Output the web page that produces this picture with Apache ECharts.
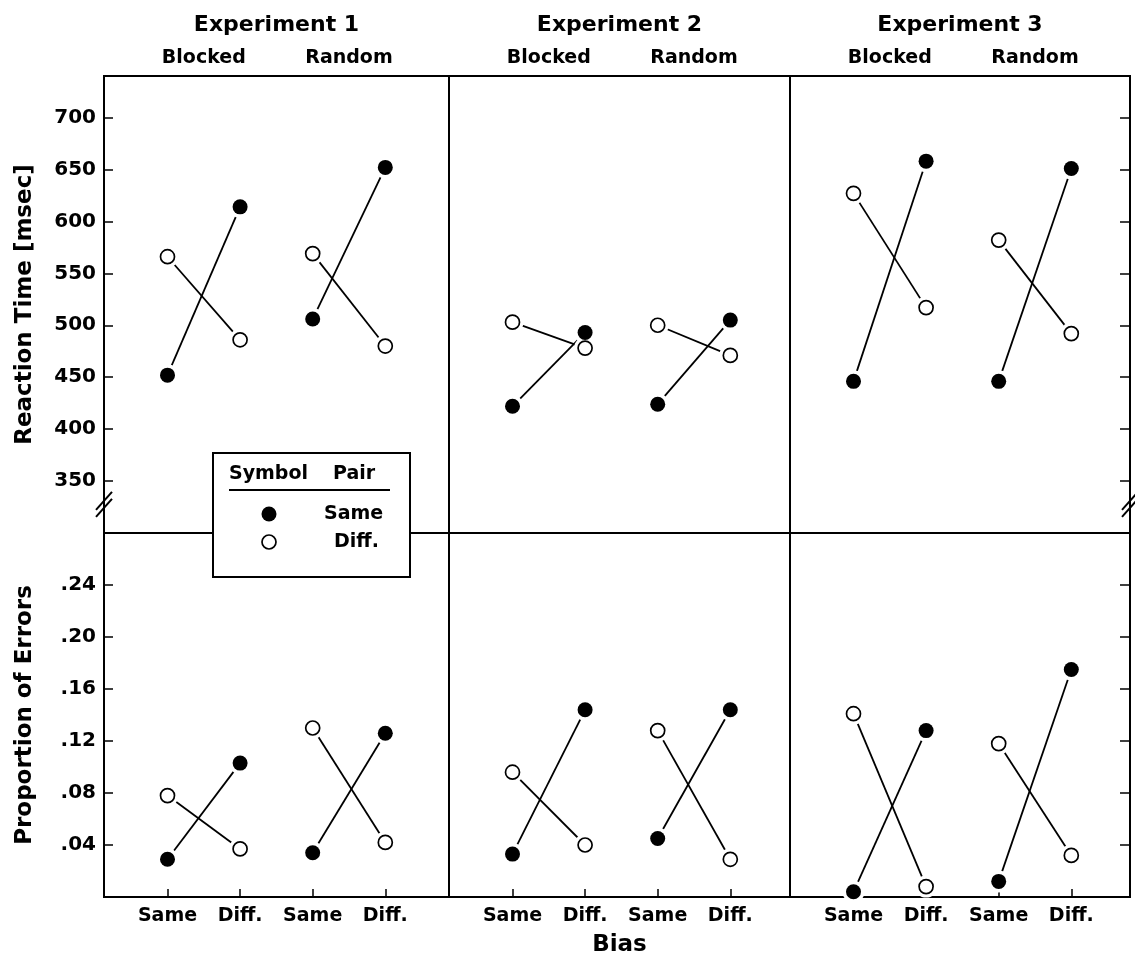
<!DOCTYPE html>
<html>
<head>
<meta charset="utf-8">
<script src="https://cdn.jsdelivr.net/npm/echarts@6/dist/echarts.min.js"></script>
<style>
html,body{margin:0;padding:0;background:#fff;}
#main{width:1135px;height:965px;}
</style>
</head>
<body>
<div id="main"></div>
<script>
// ---------- data ----------
const experiments = ['Experiment 1', 'Experiment 2', 'Experiment 3'];
const conditions = ['Blocked', 'Random'];
const biasCategories = ['Same', 'Diff.', 'Same', 'Diff.'];
const rtTicks = [350, 400, 450, 500, 550, 600, 650, 700];
const errTicks = [0.04, 0.08, 0.12, 0.16, 0.20, 0.24];
const pairLabels = ['Same', 'Diff.'];

// values along bias: [Blocked-Same, Blocked-Diff., Random-Same, Random-Diff.]
const rtSamePair = [
  [452, 614, 506, 652],
  [422, 493, 424, 505],
  [446, 658, 446, 651]
];
const rtDiffPair = [
  [566, 486, 569, 480],
  [503, 478, 500, 471],
  [627, 517, 582, 492]
];
const errSamePair = [
  [0.029, 0.103, 0.034, 0.126],
  [0.033, 0.144, 0.045, 0.144],
  [0.004, 0.128, 0.012, 0.175]
];
const errDiffPair = [
  [0.078, 0.037, 0.130, 0.042],
  [0.096, 0.040, 0.128, 0.029],
  [0.141, 0.008, 0.118, 0.032]
];

// ---------- layout ----------
const FONT = 'DejaVu Sans';
const cols = [{left: 104, width: 345}, {left: 449, width: 341}, {left: 790, width: 340}];
const rows = [{top: 76, height: 457}, {top: 533, height: 364}];
const unitPx = 72.6, firstOffset = 63.5;
const xMin = -firstOffset / unitPx;
const rtRange = [300, 740];
const errRange = [0, 0.28];

const grids = [], xAxes = [], yAxes = [], series = [];
const txt = (size) => ({fontFamily: FONT, fontWeight: 'bold', fontSize: size, color: '#000'});

for (let r = 0; r < 2; r++) {
  for (let c = 0; c < 3; c++) {
    const g = r * 3 + c;
    grids.push({
      left: cols[c].left, top: rows[r].top, width: cols[c].width, height: rows[r].height,
      show: true, borderColor: '#000', borderWidth: 2, backgroundColor: 'transparent'
    });
    const xMax = xMin + cols[c].width / unitPx;
    // bottom x axis
    xAxes.push({
      type: 'value', gridIndex: g, min: xMin, max: xMax, position: 'bottom',
      axisLine: {show: false, onZero: false}, splitLine: {show: false},
      axisTick: {show: r === 1, inside: true, length: 8, lineStyle: {color: '#000', width: 1.5},
                 customValues: [0, 1, 2, 3]},
      axisLabel: {show: r === 1, customValues: [0, 1, 2, 3], margin: 10, ...txt(19),
                  formatter: (v) => biasCategories[Math.round(v)]},
      name: (r === 1 && c === 1) ? 'Bias' : '', nameLocation: 'middle', nameGap: 37,
      nameTextStyle: txt(23)
    });
    // left y axis
    const isRT = r === 0;
    yAxes.push({
      type: 'value', gridIndex: g, position: 'left',
      min: isRT ? rtRange[0] : errRange[0], max: isRT ? rtRange[1] : errRange[1],
      axisLine: {show: false, onZero: false}, splitLine: {show: false},
      axisTick: {show: c === 0, inside: true, length: 9, lineStyle: {color: '#000', width: 1.5},
                 customValues: isRT ? rtTicks : errTicks},
      axisLabel: {show: c === 0, customValues: isRT ? rtTicks : errTicks, margin: 8, ...txt(20),
                  formatter: isRT ? (v) => String(v) : (v) => '.' + String(Math.round(v * 100)).padStart(2, '0')},
      name: c === 0 ? (isRT ? 'Reaction Time [msec]' : 'Proportion of Errors') : '',
      nameLocation: 'middle', nameGap: 67, nameTextStyle: txt(23)
    });
  }
}
// top axes for condition labels + experiment titles
for (let c = 0; c < 3; c++) {
  xAxes.push({
    type: 'value', gridIndex: c, min: xMin, max: xMin + cols[c].width / unitPx, position: 'top',
    axisLine: {show: false, onZero: false}, axisTick: {show: false}, splitLine: {show: false},
    axisLabel: {customValues: [0.5, 2.5], margin: 8, ...txt(19),
                formatter: (v) => conditions[Math.round((v - 0.5) / 2)]},
    name: experiments[c], nameLocation: 'middle', nameGap: 40, nameTextStyle: txt(22)
  });
}
// right axes on last column
[2, 5].forEach((g) => {
  const isRT = g === 2;
  yAxes.push({
    type: 'value', gridIndex: g, position: 'right',
    min: isRT ? rtRange[0] : errRange[0], max: isRT ? rtRange[1] : errRange[1],
    axisLine: {show: false, onZero: false}, splitLine: {show: false}, axisLabel: {show: false},
    axisTick: {show: true, inside: true, length: 10, lineStyle: {color: '#000', width: 1.5},
               customValues: isRT ? rtTicks : errTicks}
  });
});

function addPanel(g, sameVals, diffVals) {
  [[sameVals, true], [diffVals, false]].forEach(([vals, filled]) => {
    for (let k = 0; k < 2; k++) {
      const data = [[2 * k, vals[2 * k]], [2 * k + 1, vals[2 * k + 1]]];
      series.push({
        type: 'line', xAxisIndex: g, yAxisIndex: g, data: data,
        symbol: 'circle', symbolSize: 22, showSymbol: true,
        itemStyle: {color: '#fff', borderWidth: 0},
        lineStyle: {color: '#000', width: 1.8}, z: 2, silent: true, animation: false
      });
    }
    series.push({
      type: 'scatter', xAxisIndex: g, yAxisIndex: g,
      data: vals.map((v, i) => [i, v]),
      symbol: 'circle', symbolSize: filled ? 15 : 14,
      itemStyle: filled ? {color: '#000', borderWidth: 0, opacity: 1}
                        : {color: '#fff', borderColor: '#000', borderWidth: 1.7, opacity: 1},
      z: 3, silent: true, animation: false
    });
  });
}
for (let c = 0; c < 3; c++) {
  addPanel(c, rtSamePair[c], rtDiffPair[c]);
  addPanel(3 + c, errSamePair[c], errDiffPair[c]);
}

const chart = echarts.init(document.getElementById('main'));
chart.setOption({
  animation: false,
  backgroundColor: '#fff',
  grid: grids, xAxis: xAxes, yAxis: yAxes, series: series
});

// legend + axis-break marks
const leftBreak = chart.convertToPixel({gridIndex: 0}, [xMin, 327]);
const rightBreak = chart.convertToPixel({gridIndex: 2}, [xMin + cols[2].width / unitPx, 327]);
function breakMark(p) {
  return [-4, 3].map((dy) => ({
    type: 'line', z: 50,
    shape: {x1: p[0] - 8, y1: p[1] + dy + 9, x2: p[0] + 8, y2: p[1] + dy - 9},
    style: {stroke: '#000', lineWidth: 2}
  }));
}
const legendFont = 'bold 19px "DejaVu Sans"';
chart.setOption({
  graphic: [
    ...breakMark(leftBreak), ...breakMark(rightBreak),
    {
      type: 'group', left: 212, top: 452, z: 100,
      children: [
        {type: 'rect', shape: {x: 0, y: 0, width: 197, height: 124}, style: {fill: '#fff', stroke: '#000', lineWidth: 2}, z: 100},
        {type: 'text', x: 16, y: 21, style: {text: 'Symbol', font: legendFont, fill: '#000', verticalAlign: 'middle'}, z: 101},
        {type: 'text', x: 120, y: 21, style: {text: 'Pair', font: legendFont, fill: '#000', verticalAlign: 'middle'}, z: 101},
        {type: 'line', shape: {x1: 16, y1: 37, x2: 177, y2: 37}, style: {stroke: '#000', lineWidth: 2}, z: 101},
        {type: 'circle', shape: {cx: 56, cy: 61, r: 7.5}, style: {fill: '#000'}, z: 101},
        {type: 'text', x: 111, y: 61, style: {text: pairLabels[0], font: legendFont, fill: '#000', verticalAlign: 'middle'}, z: 101},
        {type: 'circle', shape: {cx: 56, cy: 89, r: 7}, style: {fill: '#fff', stroke: '#000', lineWidth: 1.7}, z: 101},
        {type: 'text', x: 121, y: 89, style: {text: pairLabels[1], font: legendFont, fill: '#000', verticalAlign: 'middle'}, z: 101}
      ]
    }
  ]
});
</script>
</body>
</html>
